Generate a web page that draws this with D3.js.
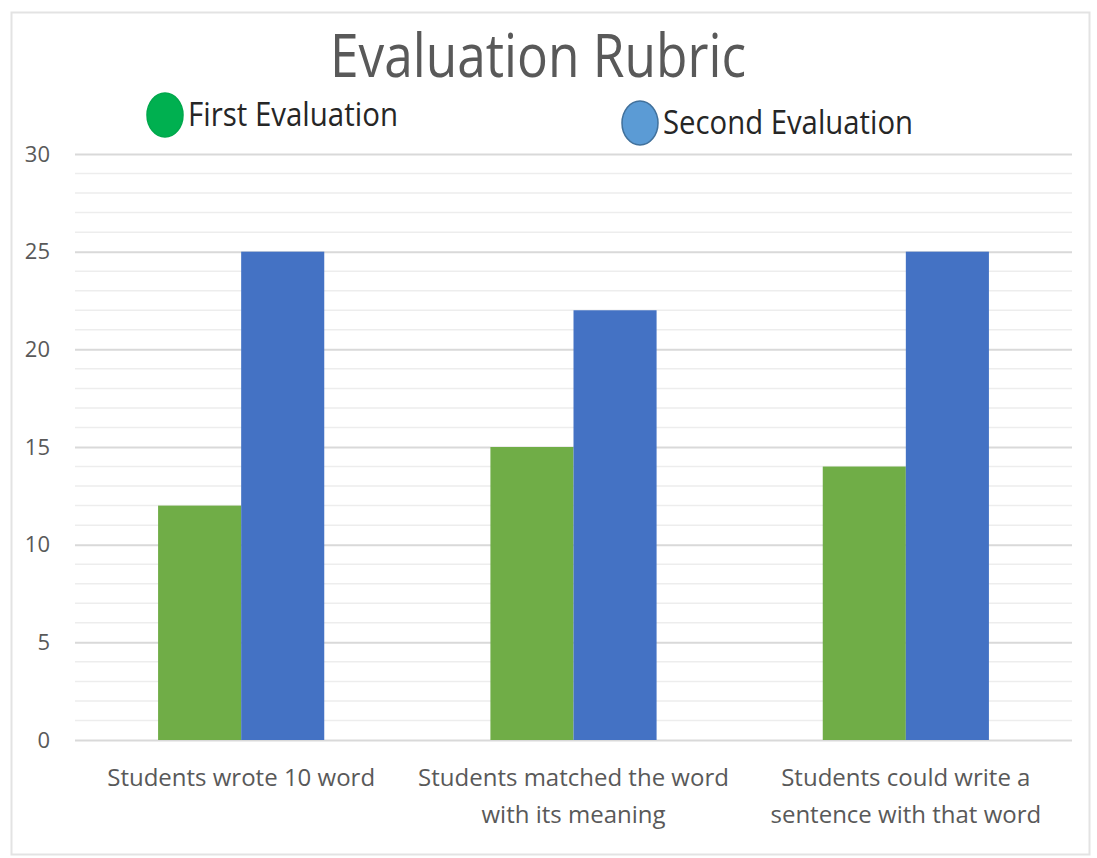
<!DOCTYPE html>
<html>
<head>
<meta charset="utf-8">
<script src="https://cdn.jsdelivr.net/npm/d3@7"></script>
<style>
  html, body { margin: 0; padding: 0; background: #ffffff; }
  svg { display: block; }
</style>
</head>
<body>
<svg id="chart" width="1097" height="858"></svg>
<script>
// Rubric categories (two-line labels) and scores per evaluation
const categories = [
  ["Students wrote 10 word"],
  ["Students matched the word", "with its meaning"],
  ["Students could write a", "sentence with that word"]
];
const categoryKeys = ["wrote", "matched", "sentence"];
const seriesNames = ["First Evaluation", "Second Evaluation"];
const firstEvaluation = [12, 15, 14];
const secondEvaluation = [25, 22, 25];
const yTicks = [0, 5, 10, 15, 20, 25, 30];
const minorTicks = d3.range(0, 31, 1);

const svg = d3.select("#chart");
const plot = { left: 75, right: 1072, top: 154, bottom: 740 };

// Outer frame
svg.append("rect")
  .attr("x", 11.5).attr("y", 12.5)
  .attr("width", 1078).attr("height", 842)
  .attr("fill", "#ffffff").attr("stroke", "#e3e3e3").attr("stroke-width", 2);

const y = d3.scaleLinear().domain([0, 30]).range([plot.bottom, plot.top]);
const x0 = d3.scaleBand().domain(categoryKeys).range([plot.left, plot.right]).paddingInner(0.5).paddingOuter(0.25);
const x1 = d3.scaleBand().domain(seriesNames).range([0, x0.bandwidth()]).padding(0);
const color = d3.scaleOrdinal().domain(seriesNames).range(["#70ad47", "#4472c4"]);

// Minor gridlines
svg.append("g")
  .selectAll("line")
  .data(minorTicks.filter(t => t % 5 !== 0))
  .join("line")
  .attr("x1", plot.left).attr("x2", plot.right)
  .attr("y1", d => y(d)).attr("y2", d => y(d))
  .attr("stroke", "#ededed").attr("stroke-width", 1.5);

// Major gridlines and y labels via axis
const yAxis = svg.append("g")
  .attr("transform", `translate(${plot.left},0)`)
  .call(d3.axisLeft(y).tickValues(yTicks).tickSize(-(plot.right - plot.left)).tickPadding(25).tickFormat(d3.format("d")));
yAxis.select(".domain").remove();
yAxis.selectAll(".tick line").attr("stroke", "#d9d9d9").attr("stroke-width", 2);
yAxis.selectAll(".tick text")
  .attr("fill", "#595959")
  .style("font-family", "'Open Sans', sans-serif")
  .style("font-size", "22px");

// Bars
const rows = categoryKeys.map((k, i) => ({ key: k, values: [firstEvaluation[i], secondEvaluation[i]] }));
svg.append("g")
  .selectAll("g")
  .data(rows)
  .join("g")
  .attr("transform", d => `translate(${x0(d.key)},0)`)
  .selectAll("rect")
  .data(d => d.values.map((v, j) => ({ name: seriesNames[j], value: v })))
  .join("rect")
  .attr("x", d => x1(d.name))
  .attr("width", x1.bandwidth())
  .attr("y", d => y(d.value))
  .attr("height", d => y(0) - y(d.value))
  .attr("fill", d => color(d.name));

// Category labels
const xl = svg.append("g");
categoryKeys.forEach((k, i) => {
  const cx = x0(k) + x0.bandwidth() / 2;
  const t = xl.append("text")
    .attr("x", cx).attr("y", 786)
    .attr("text-anchor", "middle")
    .attr("fill", "#595959")
    .style("font-family", "'Open Sans', sans-serif")
    .style("font-size", "24px");
  categories[i].forEach((line, li) => {
    t.append("tspan").attr("x", cx).attr("dy", li === 0 ? 0 : 37).text(line);
  });
});

// Title (condensed)
svg.append("text")
  .attr("x", 330).attr("y", 77)
  .attr("textLength", 416).attr("lengthAdjust", "spacingAndGlyphs")
  .attr("fill", "#595959")
  .style("font-family", "'Open Sans', sans-serif")
  .style("font-size", "60px")
  .text("Evaluation Rubric");

// Legend
const legend = [
  { name: seriesNames[0], cx: 165, cy: 115, fill: "#00b050", stroke: "#00a84c", tx: 188, ty: 126, w: 210 },
  { name: seriesNames[1], cx: 640, cy: 123, fill: "#5b9bd5", stroke: "#41719c", tx: 663, ty: 134, w: 250 }
];
const lg = svg.append("g").selectAll("g").data(legend).join("g");
lg.append("ellipse")
  .attr("cx", d => d.cx).attr("cy", d => d.cy)
  .attr("rx", 18).attr("ry", 22)
  .attr("fill", d => d.fill).attr("stroke", d => d.stroke).attr("stroke-width", 1.5);
lg.append("text")
  .attr("x", d => d.tx).attr("y", d => d.ty)
  .attr("textLength", d => d.w).attr("lengthAdjust", "spacingAndGlyphs")
  .attr("fill", "#262626")
  .style("font-family", "'Open Sans', sans-serif")
  .style("font-size", "33px")
  .text(d => d.name);
</script>
</body>
</html>
